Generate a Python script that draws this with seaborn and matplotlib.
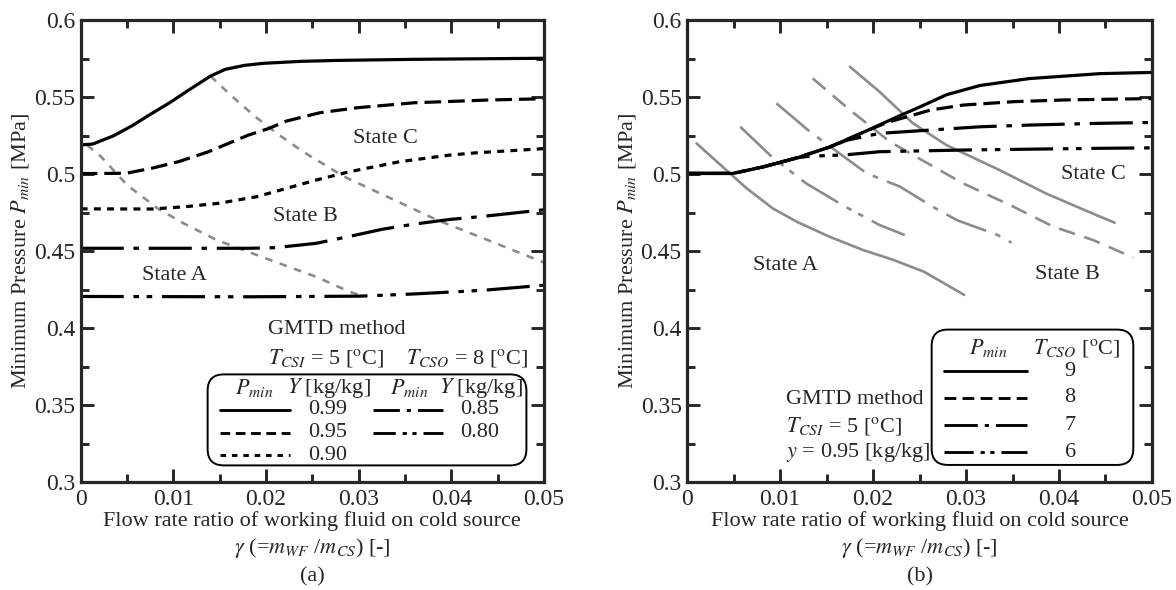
import matplotlib
matplotlib.use("Agg")
import matplotlib.pyplot as plt
import seaborn as sns
from matplotlib.patches import FancyBboxPatch
from matplotlib.ticker import MultipleLocator, FuncFormatter

# ---------------- (a) effect of Y, T_CSI = 5, T_CSO = 8 ----------------
x_a99 = [0.0002, 0.0013, 0.0035, 0.0055, 0.0075, 0.0096, 0.0116, 0.0140, 0.0156, 0.0177, 0.0197, 0.0238, 0.0278, 0.0360, 0.0500]
p_a99 = [0.5190, 0.5195, 0.5247, 0.5312, 0.5387, 0.5463, 0.5543, 0.5636, 0.5680, 0.5706, 0.5719, 0.5732, 0.5738, 0.5745, 0.5752]

x_a95 = [0.0, 0.0049, 0.0077, 0.0106, 0.0138, 0.0181, 0.0203, 0.0222, 0.0258, 0.0299, 0.0360, 0.0441, 0.0500]
p_a95 = [0.5003, 0.5005, 0.5038, 0.5081, 0.5145, 0.5253, 0.5296, 0.5344, 0.5398, 0.5431, 0.5463, 0.5481, 0.5489]

x_a90 = [0.0, 0.0077, 0.0113, 0.0149, 0.0190, 0.0254, 0.0290, 0.0344, 0.0398, 0.0427, 0.0500]
p_a90 = [0.4774, 0.4773, 0.4788, 0.4810, 0.4853, 0.4961, 0.5015, 0.5080, 0.5123, 0.5138, 0.5165]

x_a85 = [0.0, 0.0183, 0.0210, 0.0254, 0.0290, 0.0326, 0.0360, 0.0398, 0.0434, 0.0500]
p_a85 = [0.4518, 0.4518, 0.4522, 0.4550, 0.4595, 0.4642, 0.4675, 0.4705, 0.4725, 0.4768]

x_a80 = [0.0, 0.0183, 0.0301, 0.0362, 0.0434, 0.0500]
p_a80 = [0.4205, 0.4203, 0.4207, 0.4222, 0.4245, 0.4278]

# state boundaries (gray dotted)
x_a_ab = [0.0007, 0.0022, 0.0050, 0.0083, 0.0111, 0.0147, 0.0192, 0.0219, 0.0254, 0.0290, 0.0301]
p_a_ab = [0.5188, 0.5113, 0.4929, 0.4777, 0.4680, 0.4571, 0.4470, 0.4410, 0.4333, 0.4236, 0.4214]
x_a_bc = [0.0140, 0.0165, 0.0190, 0.0215, 0.0240, 0.0284, 0.0334, 0.0384, 0.0434, 0.0500]
p_a_bc = [0.5636, 0.5495, 0.5365, 0.5250, 0.5145, 0.4984, 0.4844, 0.4703, 0.4584, 0.4425]

y_labels_a = ["0.99", "0.95", "0.90", "0.85", "0.80"]

# ---------------- (b) effect of T_CSO, T_CSI = 5, y = 0.95 ----------------
x_b9 = [0.0, 0.0049, 0.0082, 0.0118, 0.0153, 0.0189, 0.0229, 0.0250, 0.0279, 0.0315, 0.0368, 0.0444, 0.0500]
p_b9 = [0.5004, 0.5004, 0.5047, 0.5105, 0.5175, 0.5270, 0.5380, 0.5435, 0.5515, 0.5575, 0.5620, 0.5652, 0.5660]

x_b8 = [0.0, 0.0049, 0.0082, 0.0118, 0.0153, 0.0189, 0.0215, 0.0262, 0.0297, 0.0351, 0.0405, 0.0444, 0.0500]
p_b8 = [0.5004, 0.5004, 0.5047, 0.5105, 0.5175, 0.5270, 0.5335, 0.5416, 0.5448, 0.5470, 0.5481, 0.5485, 0.5490]

x_b7 = [0.0, 0.0049, 0.0082, 0.0118, 0.0153, 0.0172, 0.0207, 0.0262, 0.0315, 0.0368, 0.0440, 0.0500]
p_b7 = [0.5004, 0.5004, 0.5047, 0.5105, 0.5175, 0.5220, 0.5264, 0.5286, 0.5307, 0.5318, 0.5329, 0.5335]

x_b6 = [0.0, 0.0049, 0.0082, 0.0118, 0.0130, 0.0171, 0.0207, 0.0297, 0.0440, 0.0500]
p_b6 = [0.5004, 0.5004, 0.5047, 0.5105, 0.5115, 0.5125, 0.5145, 0.5156, 0.5167, 0.5170]

# state boundaries (gray)
x_b9_a = [0.0010, 0.0046, 0.0064, 0.0092, 0.0118, 0.0153, 0.0189, 0.0222, 0.0255, 0.0298]
p_b9_a = [0.5199, 0.5004, 0.4907, 0.4777, 0.4690, 0.4593, 0.4507, 0.4442, 0.4365, 0.4215]
x_b9_c = [0.0175, 0.0207, 0.0243, 0.0279, 0.0336, 0.0386, 0.0440, 0.0460]
p_b9_c = [0.5697, 0.5534, 0.5329, 0.5188, 0.5026, 0.4874, 0.4734, 0.4684]
x_b8_g = [0.0135, 0.0175, 0.0218, 0.0243, 0.0297, 0.0351, 0.0394, 0.0437, 0.0480]
p_b8_g = [0.5621, 0.5416, 0.5210, 0.5123, 0.4939, 0.4788, 0.4658, 0.4571, 0.4457]
x_b7_g = [0.0096, 0.0132, 0.0193, 0.0229, 0.0264, 0.0290, 0.0334, 0.0349]
p_b7_g = [0.5459, 0.5275, 0.5005, 0.4918, 0.4788, 0.4701, 0.4604, 0.4554]
x_b6_g = [0.0057, 0.0091, 0.0128, 0.0170, 0.0207, 0.0234]
p_b6_g = [0.5307, 0.5112, 0.4939, 0.4788, 0.4669, 0.4604]

tcso_labels = ["9", "8", "7", "6"]

# ---------------- style ----------------
sns.set_style("ticks")
plt.rcParams["font.family"] = ["Liberation Serif", "DejaVu Serif"]
plt.rcParams["mathtext.fontset"] = "stix"
plt.rcParams["lines.scale_dashes"] = False
plt.rcParams["font.size"] = 16

BLACK = "black"
GRAY = "#8c8c8c"
LW = 2.3
GLW = 1.9
FS = 16
ls_solid = "-"
ls_dash = (0, (12, 5))
ls_dot = (0, (5, 4.5))
ls_dashdot = (0, (31, 7, 4, 7))
ls_dashdotdot = (0, (31, 7, 4, 5.5, 4, 7))
ls_gdot = (0, (5.5, 5.5))
ls_gdash = (0, (12, 7))

# shorter patterns for the legend keys
leg_a = ["-", (0, (7, 4)), (0, (4, 4.2)), (0, (19, 5, 3, 5)), (0, (16, 5, 3, 4, 3, 5))]
leg_b = ["-", (0, (8.5, 4.5)), (0, (24, 5, 3, 5)), (0, (21, 5, 3, 4, 3, 5))]

fig = plt.figure(figsize=(11.76, 5.9), dpi=100)
ax_a = fig.add_axes([0.0686, 0.183, 0.394, 0.783])
ax_b = fig.add_axes([0.5844, 0.183, 0.3951, 0.783])


def draw(ax, x, y, color, lw, ls):
    sns.lineplot(x=x, y=y, ax=ax, color=color, lw=lw, linestyle=ls,
                 errorbar=None, sort=False)


def style_axes(ax):
    ax.set_xlim(0, 0.05)
    ax.set_ylim(0.3, 0.6)
    ax.xaxis.set_major_locator(MultipleLocator(0.01))
    ax.xaxis.set_minor_locator(MultipleLocator(0.005))
    ax.yaxis.set_major_locator(MultipleLocator(0.05))
    ax.yaxis.set_minor_locator(MultipleLocator(0.025))
    fmt = FuncFormatter(lambda v, p: "%g" % round(v, 4))
    ax.xaxis.set_major_formatter(fmt)
    ax.yaxis.set_major_formatter(fmt)
    ax.tick_params(which="both", direction="in", top=True, right=True, width=2.1, labelsize=17)
    ax.tick_params(which="major", length=9.5)
    ax.tick_params(which="minor", length=5.5)
    ax.tick_params(axis="x", which="major", pad=5)
    ax.tick_params(axis="y", which="major", pad=4)
    for s in ax.spines.values():
        s.set_linewidth(2.3)
        s.set_visible(True)
    ax.set_ylabel("Minimum Pressure $P_{min}$ [MPa]", fontsize=FS, labelpad=2)
    ax.set_xlabel("Flow rate ratio of working fluid on cold source\n"
                  r"$\gamma$ (=$m_{WF}$ /$m_{CS}$) [-]",
                  fontsize=FS, labelpad=1, linespacing=1.25)


# ---- panel (a) ----
draw(ax_a, x_a_ab, p_a_ab, GRAY, GLW, ls_gdot)
draw(ax_a, x_a_bc, p_a_bc, GRAY, GLW, ls_gdot)
series_a = [(x_a99, p_a99, ls_solid), (x_a95, p_a95, ls_dash), (x_a90, p_a90, ls_dot),
            (x_a85, p_a85, ls_dashdot), (x_a80, p_a80, ls_dashdotdot)]
for x, y, ls in series_a:
    draw(ax_a, x, y, BLACK, LW, ls)
style_axes(ax_a)

ax_a.text(0.0329, 0.5232, "State C", ha="center", va="center", fontsize=FS)
ax_a.text(0.0243, 0.4723, "State B", ha="center", va="center", fontsize=FS)
ax_a.text(0.0101, 0.4344, "State A", ha="center", va="center", fontsize=FS)
ax_a.text(0.0276, 0.3990, "GMTD method", ha="center", va="center", fontsize=FS)
ax_a.text(0.0265, 0.3806, r"$T_{CSI}$ = 5 [$^{\mathrm{o}}$C]", ha="center", va="center", fontsize=FS)
ax_a.text(0.0417, 0.3806, r"$T_{CSO}$ = 8 [$^{\mathrm{o}}$C]", ha="center", va="center", fontsize=FS)

T = ax_a.transAxes
ax_a.add_patch(FancyBboxPatch((0.274, 0.036), 0.688, 0.197, boxstyle="round,pad=0,rounding_size=0.035",
                              transform=T, fill=False, lw=1.4, ec="black"))
for hx, txt in [(0.374, "$P_{min}$"), (0.536, "$Y$ [kg/kg]"), (0.71, "$P_{min}$"), (0.864, "$Y$ [kg/kg]")]:
    ax_a.text(hx, 0.204, txt, transform=T, ha="center", va="center", fontsize=FS)
rows_y = [0.157, 0.107, 0.058]
for i, (ls, lab) in enumerate(zip(leg_a, y_labels_a)):
    col = 0 if i < 3 else 1
    ry = rows_y[i if i < 3 else i - 3]
    lx0, lx1, tx = (0.30, 0.452, 0.532) if col == 0 else (0.63, 0.782, 0.862)
    ax_a.plot([lx0, lx1], [ry, ry], transform=T, color=BLACK, lw=LW * 0.9, linestyle=ls)
    ax_a.text(tx, ry, lab, transform=T, ha="center", va="center", fontsize=FS)

# ---- panel (b) ----
grays_b = [(x_b9_a, p_b9_a, ls_solid), (x_b9_c, p_b9_c, ls_solid), (x_b8_g, p_b8_g, ls_gdash),
           (x_b7_g, p_b7_g, ls_dashdot), (x_b6_g, p_b6_g, ls_dashdotdot)]
for x, y, ls in grays_b:
    draw(ax_b, x, y, GRAY, GLW, ls)
series_b = [(x_b9, p_b9, ls_solid), (x_b8, p_b8, ls_dash), (x_b7, p_b7, ls_dashdot), (x_b6, p_b6, ls_dashdotdot)]
for x, y, ls in series_b[::-1]:
    draw(ax_b, x, y, BLACK, LW, ls)
style_axes(ax_b)

ax_b.text(0.0106, 0.4403, "State A", ha="center", va="center", fontsize=FS)
ax_b.text(0.0409, 0.4349, "State B", ha="center", va="center", fontsize=FS)
ax_b.text(0.0437, 0.4998, "State C", ha="center", va="center", fontsize=FS)
ax_b.text(0.0106, 0.3537, "GMTD method", ha="left", va="center", fontsize=FS)
ax_b.text(0.0106, 0.3364, r"$T_{CSI}$ = 5 [$^{\mathrm{o}}$C]", ha="left", va="center", fontsize=FS)
ax_b.text(0.0106, 0.3192, r"$y$ = 0.95 [kg/kg]", ha="left", va="center", fontsize=FS)

T = ax_b.transAxes
ax_b.add_patch(FancyBboxPatch((0.526, 0.037), 0.434, 0.293, boxstyle="round,pad=0,rounding_size=0.035",
                              transform=T, fill=False, lw=1.4, ec="black"))
ax_b.text(0.648, 0.29, "$P_{min}$", transform=T, ha="center", va="center", fontsize=FS)
ax_b.text(0.838, 0.29, r"$T_{CSO}$ [$^{\mathrm{o}}$C]", transform=T, ha="center", va="center", fontsize=FS)
for ls, lab, ry in zip(leg_b, tcso_labels, [0.24, 0.182, 0.123, 0.064]):
    ax_b.plot([0.552, 0.732], [ry, ry], transform=T, color=BLACK, lw=LW * 0.9, linestyle=ls)
    ax_b.text(0.824, ry, lab, transform=T, ha="center", va="center", fontsize=FS)

fig.text(0.2655, 0.022, "(a)", ha="center", va="center", fontsize=FS)
fig.text(0.782, 0.022, "(b)", ha="center", va="center", fontsize=FS)

fig.savefig("out.png", dpi=100)
